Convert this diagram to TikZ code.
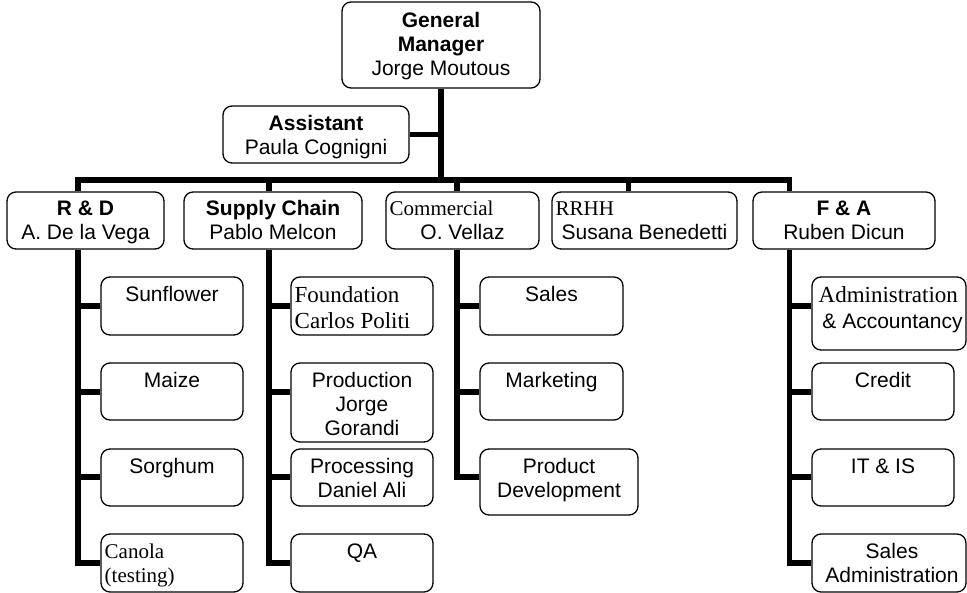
\documentclass[tikz,border=0pt]{standalone}
\usepackage{fontspec}
\setmainfont{Liberation Sans}
\newfontfamily\serifface{Liberation Serif}
\begin{document}
\begin{tikzpicture}[x=1pt,y=-1pt,
  box/.style={draw, line width=1.3pt, rounded corners=9pt, inner sep=0pt, rectangle},
  link/.style={line width=5.5pt, line join=miter},
  lbl/.style={inner sep=0pt, anchor=base, font=\fontsize{21}{24}\selectfont},
  bold/.style={lbl, font=\fontsize{21}{24}\selectfont\bfseries},
  serif/.style={inner sep=0pt, anchor=base west, font=\fontsize{21}{24}\serifface},
  serifbig/.style={inner sep=0pt, anchor=base west, font=\fontsize{23}{27}\serifface}]
\useasboundingbox (0,0) rectangle (967,593);

% ---- boxes: top levels
\node[box, minimum width=198pt, minimum height=86pt] (gm)   at (441,45)    {};
\node[box, minimum width=186pt, minimum height=57pt] (asst) at (316,134.5) {};
\node[box, minimum width=157pt, minimum height=57pt] (rd)   at (85.5,220.5){};
\node[box, minimum width=178pt, minimum height=57pt] (sc)   at (273,220.5) {};
\node[box, minimum width=153pt, minimum height=57pt] (com)  at (462.5,220.5){};
\node[box, minimum width=185pt, minimum height=57pt] (rrhh) at (644.5,220.5){};
\node[box, minimum width=182pt, minimum height=57pt] (fa)   at (844,220.5) {};

% ---- boxes: R & D
\node[box, minimum width=142pt, minimum height=58pt] (sun)    at (172,306)   {};
\node[box, minimum width=142pt, minimum height=57pt] (maize)  at (172,391.5) {};
\node[box, minimum width=142pt, minimum height=57pt] (sorg)   at (172,477.5) {};
\node[box, minimum width=142pt, minimum height=58pt] (canola) at (172,563)   {};

% ---- boxes: Supply Chain
\node[box, minimum width=142pt, minimum height=58pt] (found) at (362,306)   {};
\node[box, minimum width=142pt, minimum height=79pt] (prod)  at (362,402.5) {};
\node[box, minimum width=142pt, minimum height=57pt] (proc)  at (362,477.5) {};
\node[box, minimum width=142pt, minimum height=58pt] (qa)    at (362,563)   {};

% ---- boxes: Commercial
\node[box, minimum width=143pt, minimum height=58pt] (sales) at (551.5,306)   {};
\node[box, minimum width=143pt, minimum height=57pt] (mkt)   at (551.5,391.5) {};
\node[box, minimum width=158pt, minimum height=66pt] (pdev)  at (559,482)     {};

% ---- boxes: F & A
\node[box, minimum width=154pt, minimum height=73pt] (admin)  at (889,313.5) {};
\node[box, minimum width=142pt, minimum height=57pt] (credit) at (883,391.5) {};
\node[box, minimum width=142pt, minimum height=57pt] (itis)   at (883,477.5) {};
\node[box, minimum width=154pt, minimum height=58pt] (sadm)   at (889,563)   {};

% ---- columns and rows of the connector grid
\coordinate (bar)  at (0,180);
\coordinate (rdx)  at (78,0);
\coordinate (scx)  at (269,0);
\coordinate (cmx)  at (457,0);
\coordinate (rrx)  at (628.5,0);
\coordinate (fax)  at (789.5,0);
\coordinate (rowA) at (0,306);
\coordinate (rowB) at (0,392);
\coordinate (rowC) at (0,477);
\coordinate (rowD) at (0,563);

% ---- connectors
\draw[link] (gm.south) -- (gm.south |- bar);
\draw[link] (asst.east) -- (asst.east -| gm.south);
\draw[link] (rd.north -| rdx) -- (bar -| rdx) -- (bar -| fax) -- (fa.north -| fax);
\draw[link] (bar -| scx) -- (sc.north -| scx);
\draw[link] (bar -| cmx) -- (com.north -| cmx);
\draw[link] (bar -| rrx) -- (rrhh.north -| rrx);

\draw[link] (rd.south -| rdx) -- (rowD -| rdx) -- (canola.west |- rowD);
\draw[link] (rowA -| rdx) -- (sun.west |- rowA);
\draw[link] (rowB -| rdx) -- (maize.west |- rowB);
\draw[link] (rowC -| rdx) -- (sorg.west |- rowC);

\draw[link] (sc.south -| scx) -- (rowD -| scx) -- (qa.west |- rowD);
\draw[link] (rowA -| scx) -- (found.west |- rowA);
\draw[link] (rowB -| scx) -- (prod.west |- rowB);
\draw[link] (rowC -| scx) -- (proc.west |- rowC);

\draw[link] (com.south -| cmx) -- (rowC -| cmx) -- (pdev.west |- rowC);
\draw[link] (rowA -| cmx) -- (sales.west |- rowA);
\draw[link] (rowB -| cmx) -- (mkt.west |- rowB);

\draw[link] (fa.south -| fax) -- (rowD -| fax) -- (sadm.west |- rowD);
\draw[link] (rowA -| fax) -- (admin.west |- rowA);
\draw[link] (rowB -| fax) -- (credit.west |- rowB);
\draw[link] (rowC -| fax) -- (itis.west |- rowC);

% ---- texts: top levels
\node[bold] (t-gm1) at (441,28)   {General};
\node[bold] (t-gm2) at (441,52)   {Manager};
\node[lbl]  (t-gm3) at (441,76)   {Jorge Moutous};
\node[bold] (t-as1) at (316,130.5){Assistant};
\node[lbl]  (t-as2) at (316,154.5){Paula Cognigni};
\node[bold] (t-rd1) at (85.5,215.5) {R \& D};
\node[lbl]  (t-rd2) at (85.5,239.5) {A. De la Vega};
\node[bold] (t-sc1) at (273,215.5)  {Supply Chain};
\node[lbl]  (t-sc2) at (273,239.5)  {Pablo Melcon};
\node[serif](t-cm1) at (389.5,215.5){Commercial};
\node[lbl]  (t-cm2) at (462.5,239.5){O. Vellaz};
\node[serif](t-rr1) at (555.5,215.5){RRHH};
\node[lbl]  (t-rr2) at (644.5,239.5){Susana Benedetti};
\node[bold] (t-fa1) at (844,215.5)  {F \& A};
\node[lbl]  (t-fa2) at (844,239.5)  {Ruben Dicun};

% ---- texts: R & D
\node[lbl]   (t-sun) at (172,301.5) {Sunflower};
\node[lbl]   (t-mai) at (172,387.5) {Maize};
\node[lbl]   (t-sor) at (172,473.5) {Sorghum};
\node[serif] (t-ca1) at (104.5,558.5) {Canola};
\node[serif] (t-ca2) at (104.5,582)   {(testing)};

% ---- texts: Supply Chain
\node[serifbig] (t-fo1) at (294.5,303) {Foundation};
\node[serifbig] (t-fo2) at (294.5,329) {Carlos Politi};
\node[lbl] (t-pr1) at (362,387.5) {Production};
\node[lbl] (t-pr2) at (362,411.5) {Jorge};
\node[lbl] (t-pr3) at (362,435.5) {Gorandi};
\node[lbl] (t-pc1) at (362,473.5) {Processing};
\node[lbl] (t-pc2) at (362,497)   {Daniel Ali};
\node[lbl] (t-qa)  at (362,558.5) {QA};

% ---- texts: Commercial
\node[lbl] (t-sal) at (551.5,301.5) {Sales};
\node[lbl] (t-mkt) at (551.5,387.5) {Marketing};
\node[lbl] (t-pd1) at (559,473.5)   {Product};
\node[lbl] (t-pd2) at (559,497.5)   {Development};

% ---- texts: F & A
\node[serifbig] (t-ad1) at (818.5,303) {Administration};
\node[lbl] (t-ad2) at (892.5,329)   {\& Accountancy};
\node[lbl] (t-cre) at (883,387.5)   {Credit};
\node[lbl] (t-its) at (883,473.5)   {IT \& IS};
\node[lbl] (t-sa1) at (892,558.5)   {Sales};
\node[lbl] (t-sa2) at (892,582.5)   {Administration};
\end{tikzpicture}
\end{document}
